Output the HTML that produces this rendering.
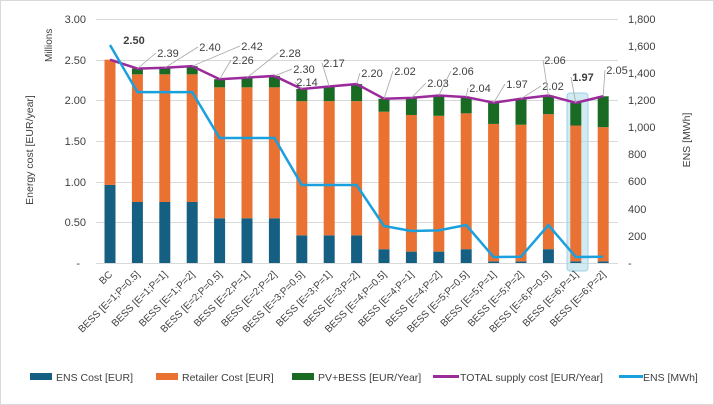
<!DOCTYPE html>
<html><head><meta charset="utf-8"><style>
html,body{margin:0;padding:0;background:#fff}
svg{display:block;font-family:"Liberation Sans",sans-serif}
</style></head><body>
<svg width="714" height="405" viewBox="0 0 714 405" xmlns="http://www.w3.org/2000/svg">
<rect x="0.5" y="0.5" width="713" height="404" fill="#fff" stroke="#d9d9d9"/>
<g stroke="#d9d9d9" stroke-width="1">
<line x1="96" y1="19.5" x2="618" y2="19.5"/>
<line x1="96" y1="60.5" x2="618" y2="60.5"/>
<line x1="96" y1="100.5" x2="618" y2="100.5"/>
<line x1="96" y1="141.5" x2="618" y2="141.5"/>
<line x1="96" y1="182.5" x2="618" y2="182.5"/>
<line x1="96" y1="222.5" x2="618" y2="222.5"/>
<line x1="96" y1="263.5" x2="618" y2="263.5"/>
</g>
<g font-size="11" fill="#404040" text-anchor="end">
<text x="86" y="23">3.00</text><text x="86" y="64">2.50</text><text x="86" y="104">2.00</text>
<text x="86" y="145">1.50</text><text x="86" y="186">1.00</text><text x="86" y="226">0.50</text>
<text x="80" y="267">-</text>
</g>
<g font-size="11" fill="#404040" text-anchor="start">
<text x="628" y="23">1,800</text><text x="628" y="50">1,600</text><text x="628" y="77">1,400</text>
<text x="628" y="104">1,200</text><text x="628" y="131">1,000</text><text x="628" y="158">800</text>
<text x="628" y="185">600</text><text x="628" y="213">400</text><text x="628" y="240">200</text>
<text x="628" y="267">-</text>
</g>
<text transform="translate(52,62) rotate(-90)" font-size="10" fill="#404040">Millions</text>
<text transform="translate(33,150) rotate(-90)" font-size="10.5" fill="#404040" text-anchor="middle">Energy cost [EUR/year]</text>
<text transform="translate(690,140) rotate(-90)" font-size="10.5" fill="#404040" text-anchor="middle">ENS [MWh]</text>
<rect x="567" y="93" width="21" height="178" rx="3" fill="#add8e6" fill-opacity="0.55" stroke="#9fd0e6"/>
<g id="bars"></g>
<polyline id="tot" fill="none" stroke="#9b2a9b" stroke-width="2.5"/>
<polyline id="ens" fill="none" stroke="#1aa0dc" stroke-width="2.5"/>
<g id="lbl" font-size="11" fill="#404040" text-anchor="middle"></g>
<g id="xl" font-size="10" fill="#404040" text-anchor="end"></g>
<g font-size="10.5" fill="#404040">
<rect x="30" y="373" width="22" height="7" fill="#156082"/><text x="56" y="381">ENS  Cost [EUR]</text>
<rect x="156" y="373" width="22" height="7" fill="#e97132"/><text x="182" y="381">Retailer Cost [EUR]</text>
<rect x="292" y="373" width="22" height="7" fill="#196b24"/><text x="318" y="381">PV+BESS [EUR/Year]</text>
<rect x="433" y="375" width="26" height="3" fill="#9b2a9b"/><text x="460" y="381">TOTAL supply cost [EUR/Year]</text>
<rect x="619" y="375" width="24" height="3" fill="#1aa0dc"/><text x="643" y="381">ENS [MWh]</text>
</g>
<script>
var ns="http://www.w3.org/2000/svg";
var blue=[.96,.75,.75,.75,.55,.55,.55,.34,.34,.34,.17,.14,.14,.17,.02,.02,.17,.02,.02];
var org=[2.50,2.32,2.32,2.32,2.16,2.16,2.16,1.99,1.99,1.99,1.86,1.82,1.81,1.84,1.71,1.70,1.83,1.69,1.67];
var tot=[2.50,2.39,2.40,2.42,2.26,2.28,2.30,2.14,2.17,2.20,2.02,2.03,2.06,2.04,1.97,2.02,2.06,1.97,2.05];
var ens=[1608,1261,1261,1261,922,922,922,575,575,575,273,236,241,280,44,46,280,44,46];
var names=["BC"];[1,2,3,4,5,6].forEach(function(e){["0.5","1","2"].forEach(function(p){names.push("BESS [E="+e+";P="+p+"]")})});
function Y(v){return 263-v*81.33}function Y2(v){return 263-v/1800*244}
function X(i){return 110+i*27.4}
var g=document.getElementById("bars");
function r(x,y1,y2,c){var e=document.createElementNS(ns,"rect");e.setAttribute("x",x-5.5);e.setAttribute("width",11);e.setAttribute("y",Math.min(y1,y2));e.setAttribute("height",Math.abs(y2-y1));e.setAttribute("fill",c);g.appendChild(e)}
var pt=[],pe=[];
for(var i=0;i<19;i++){var x=X(i);r(x,Y(0),Y(blue[i]),"#156082");r(x,Y(blue[i]),Y(org[i]),"#e97132");if(tot[i]>org[i])r(x,Y(org[i]),Y(tot[i]),"#196b24");
pt.push(x+","+Y(tot[i]));pe.push(x+","+Y2(ens[i]));
var t=document.createElementNS(ns,"text");t.setAttribute("transform","translate("+(x+3)+",275) rotate(-45)");t.textContent=names[i];document.getElementById("xl").appendChild(t);}
document.getElementById("tot").setAttribute("points",pt.join(" "));
document.getElementById("ens").setAttribute("points",pe.join(" "));
var L=[[134,44,1],[168,57],[210,51],[252,50],[243,64],[290,57],[304,73],[307,86],[334,67],[372,77],[405,75],[438,87],[463,75],[480,92],[517,88],[553,90],[555,64],[583,81,1],[617,74]];
var lg=document.getElementById("lbl");
for(var i=0;i<19;i++){var l=L[i];var ln=document.createElementNS(ns,"line");ln.setAttribute("x1",X(i));ln.setAttribute("y1",Y(tot[i]));ln.setAttribute("x2",l[0]-12);ln.setAttribute("y2",l[1]-4);ln.setAttribute("stroke","#a6a6a6");ln.setAttribute("stroke-width","0.8");if(i>0)lg.appendChild(ln);
var t=document.createElementNS(ns,"text");t.setAttribute("x",l[0]);t.setAttribute("y",l[1]);if(l[2])t.setAttribute("font-weight","bold");t.textContent=tot[i].toFixed(2);lg.appendChild(t);}
</script>
</svg>
</body></html>
